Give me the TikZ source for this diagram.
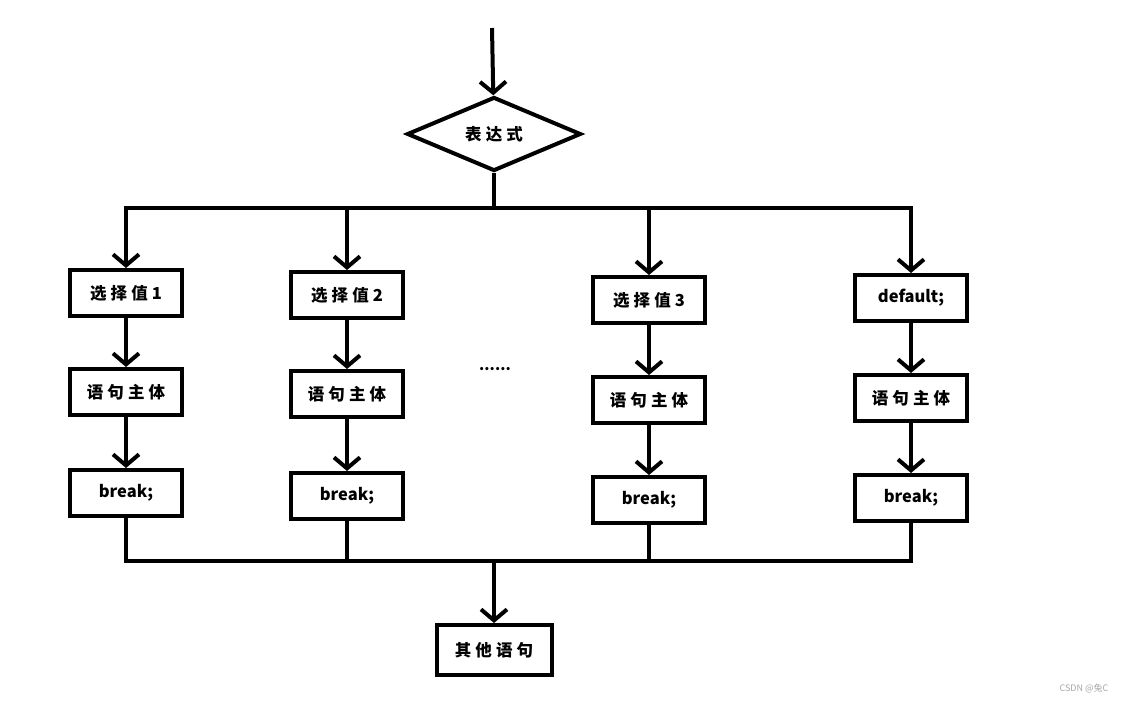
\documentclass[tikz,border=0pt]{standalone}
\usepackage{fontspec}
\setmainfont{Noto Sans CJK SC}
\newfontfamily\wide[LetterSpace=25]{Noto Sans CJK SC}
\usetikzlibrary{shapes.geometric, arrows.meta, positioning}

\begin{document}
\begin{tikzpicture}[x=1pt, y=-1pt, line width=4pt, >={Straight Barb[length=11pt,width=26pt]}]
  % Define styles
  \tikzstyle{decision} = [diamond, aspect=2.3, minimum width=174pt, minimum height=74pt, inner sep=0pt, draw=black, text centered, font=\fontsize{16.5}{18}\selectfont\bfseries\wide]
  \tikzstyle{stepbox} = [rectangle, minimum width=112pt, minimum height=46pt, draw=black, text centered, font=\fontsize{16.5}{18}\selectfont\bfseries]
  \tikzstyle{widebox} = [stepbox, font=\fontsize{16.5}{18}\selectfont\bfseries\wide]
  \tikzstyle{arrow} = [draw, ->, line join=miter]
  \tikzstyle{line} = [draw, line join=miter]

  \useasboundingbox (0,0) rectangle (1125,702);

  % Place nodes
  \coordinate (entry) at (492,28);
  \node [decision] (expr) at (494,134) {表达式};
  \coordinate (split) at (494,208);

  \node [widebox] (case1) at (126,293) {选择值1};
  \node [widebox] (body1) at (126,392) {语句主体};
  \node [stepbox] (break1) at (126,493) {break;};

  \node [widebox] (case2) at (347,295) {选择值2};
  \node [widebox] (body2) at (347,394) {语句主体};
  \node [stepbox] (break2) at (347,496) {break;};

  \node [font=\bfseries\fontsize{15}{15}\selectfont] (dots) at (495,369) {......};

  \node [widebox] (case3) at (649,300) {选择值3};
  \node [widebox] (body3) at (649,400) {语句主体};
  \node [stepbox] (break3) at (649,500) {break;};

  \node [stepbox] (default) at (911,298) {default;};
  \node [widebox] (body4) at (911,398) {语句主体};
  \node [stepbox] (break4) at (911,498) {break;};

  \coordinate (merge) at (494,561);
  \node [widebox, minimum width=115pt, minimum height=50pt] (other) at (494,650) {其他语句};

  \node [text=gray!70, font=\fontsize{9}{10}\selectfont] (mark) at (1084,688) {CSDN @兔C};

  % Draw edges
  \path [arrow] (entry) -- (expr);
  \path [line] (expr) -- (split);
  \path [arrow] (split) -| (case1);
  \path [arrow] (split) -| (case2);
  \path [arrow] (split) -| (case3);
  \path [arrow] (split) -| (default);
  \path [arrow] (case1) -- (body1);
  \path [arrow] (body1) -- (break1);
  \path [arrow] (case2) -- (body2);
  \path [arrow] (body2) -- (break2);
  \path [arrow] (case3) -- (body3);
  \path [arrow] (body3) -- (break3);
  \path [arrow] (default) -- (body4);
  \path [arrow] (body4) -- (break4);
  \path [line] (break1) |- (merge);
  \path [line] (break2) |- (merge);
  \path [line] (break3) |- (merge);
  \path [line] (break4) |- (merge);
  \path [arrow] (merge) -- (other);
\end{tikzpicture}
\end{document}
